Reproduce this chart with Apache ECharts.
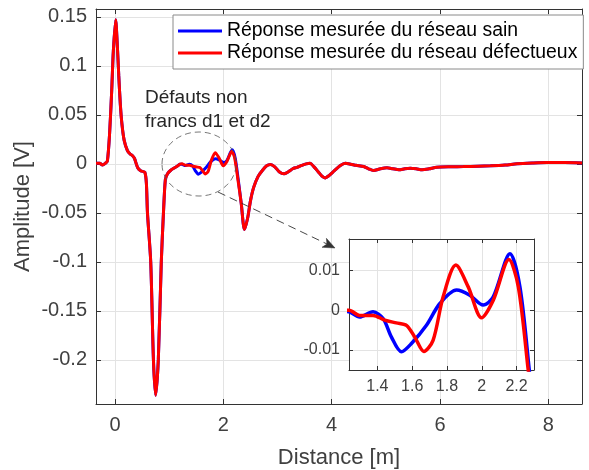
<!DOCTYPE html>
<html>
<head>
<meta charset="utf-8">
<script src="https://cdn.jsdelivr.net/npm/echarts@6/dist/echarts.min.js"></script>
<style>
  html, body { margin: 0; padding: 0; background: #fff; }
  #chart { width: 589px; height: 470px; }
</style>
</head>
<body>
<div id="chart"></div>
<script>
// start of the trace, same for both measurements
var distHead = [-0.35, -0.28, -0.23, -0.18, -0.14, -0.1, -0.06, -0.03, 0.013, 0.04, 0.07, 0.1, 0.13, 0.17, 0.23, 0.28, 0.32, 0.36, 0.42, 0.48, 0.55, 0.58, 0.6, 0.66, 0.71, 0.75, 0.8, 0.855, 0.895, 0.93, 0.97, 1.03, 1.1, 1.16, 1.2];
var ampHead = [0.0005, 0.0005, -0.0012, 0.0005, 0.003, 0.03, 0.075, 0.115, 0.147, 0.125, 0.09, 0.06, 0.04, 0.024, 0.0135, 0.01, 0.0085, 0.0055, -0.004, -0.0072, -0.0085, -0.02, -0.05, -0.1, -0.2, -0.236, -0.2, -0.1, -0.05, -0.016, -0.01, -0.0065, -0.004, -0.002, -0.0003];

// zone of the two soft faults (d1, d2)
var distSain = [1.237, 1.298, 1.375, 1.433, 1.481, 1.538, 1.596, 1.682, 1.759, 1.855, 1.931, 2.008, 2.066, 2.162, 2.219, 2.273];
var ampSain = [-0.0004, -0.0017, -0.0004, -0.0021, -0.0068, -0.0105, -0.0084, -0.0038, 0.0017, 0.0051, 0.0038, 0.0013, 0.0034, 0.0143, 0.0059, -0.0152];
var distDefect = [1.237, 1.298, 1.375, 1.442, 1.509, 1.567, 1.615, 1.667, 1.72, 1.778, 1.851, 1.922, 1.999, 2.066, 2.156, 2.21, 2.267];
var ampDefect = [0.0, -0.0013, -0.0013, -0.0025, -0.0032, -0.0038, -0.0068, -0.0104, -0.0076, 0.0034, 0.0114, 0.0059, -0.0019, 0.0025, 0.0128, 0.0059, -0.0152];

// rest of the trace
var distTail = [2.33, 2.39, 2.45, 2.5, 2.56, 2.64, 2.72, 2.8, 2.87, 2.95, 3.03, 3.12, 3.2, 3.28, 3.36, 3.45, 3.53, 3.6, 3.67, 3.75, 3.82, 3.88, 3.95, 4.05, 4.16, 4.25, 4.35, 4.45, 4.59, 4.68, 4.77, 4.9, 5.02, 5.13, 5.24, 5.35, 5.45, 5.56, 5.67, 5.8, 5.94, 6.2, 6.43, 6.7, 6.93, 7.2, 7.42, 7.7, 7.97, 8.3, 8.62];
var ampTail = [-0.04, -0.067, -0.055, -0.038, -0.024, -0.013, -0.0068, -0.002, -0.0007, -0.003, -0.008, -0.0102, -0.008, -0.005, -0.0035, -0.0015, 0.0, 0.0006, -0.0028, -0.008, -0.0125, -0.0143, -0.012, -0.007, -0.0017, 0.0006, -0.0003, -0.0015, -0.0027, -0.005, -0.0068, -0.005, -0.004, -0.005, -0.006, -0.005, -0.0045, -0.005, -0.006, -0.005, -0.0035, -0.003, -0.0028, -0.0024, -0.002, -0.0012, 0.0, 0.0008, 0.0013, 0.0013, 0.001];

var xTicks = [0, 2, 4, 6, 8];
var yTicks = [-0.2, -0.15, -0.1, -0.05, 0, 0.05, 0.1, 0.15];
var zoomXTicks = [1.4, 1.6, 1.8, 2, 2.2];
var zoomYTicks = [-0.01, 0, 0.01];

var nameSain = 'Réponse mesurée du réseau sain';
var nameDefect = 'Réponse mesurée du réseau défectueux';

function pairs(xs, ys) {
  var out = [];
  for (var i = 0; i < xs.length; i++) out.push([xs[i], ys[i]]);
  return out;
}
var dataSain = pairs(distHead.concat(distSain, distTail), ampHead.concat(ampSain, ampTail));
var dataDefect = pairs(distHead.concat(distDefect, distTail), ampHead.concat(ampDefect, ampTail));

var font = 'Liberation Sans';
var axisCol = '#333333';
var labCol = '#404040';
var gridCol = '#e3e3e3';

function fmt(v) { return String(+(+v).toFixed(3)); }

function axis(dim, opts) {
  var a = {
    type: 'value',
    gridIndex: opts.grid,
    min: opts.min,
    max: opts.max,
    position: opts.position,
    z: opts.z || 0,
    axisLine: { show: true, onZero: false, lineStyle: { color: axisCol, width: 1 } },
    axisTick: { show: true, inside: true, length: opts.tickLen, customValues: opts.ticks, lineStyle: { color: axisCol } },
    axisLabel: {
      show: !!opts.labels,
      customValues: opts.ticks,
      formatter: fmt,
      color: labCol,
      fontFamily: font,
      fontSize: opts.fontSize,
      margin: opts.margin
    },
    splitLine: { show: !!opts.split, lineStyle: { color: gridCol, width: 1 } }
  };
  if (opts.name) {
    a.name = opts.name;
    a.nameLocation = 'middle';
    a.nameGap = opts.nameGap;
    a.nameMoveOverlap = false;
    a.nameTextStyle = { color: labCol, fontFamily: font, fontSize: 22 };
  }
  return a;
}

var dom = document.getElementById('chart');
var myChart = echarts.init(dom, null, { renderer: 'canvas' });

var option = {
  animation: false,
  backgroundColor: '#fff',
  grid: [
    { left: 96, top: 9, right: 7, bottom: 66, outerBoundsMode: 'none', containLabel: false },
    { left: 349, top: 239, width: 185, height: 131, outerBoundsMode: 'none', containLabel: false,
      show: true, backgroundColor: '#fff', borderWidth: 0, z: 5 }
  ],
  xAxis: [
    axis('x', { grid: 0, min: -0.35, max: 8.62, position: 'bottom', ticks: xTicks, tickLen: 5, labels: true, fontSize: 20, margin: 11, split: true, name: 'Distance [m]', nameGap: 43 }),
    axis('x', { grid: 0, min: -0.35, max: 8.62, position: 'top', ticks: xTicks, tickLen: 5 }),
    axis('x', { grid: 1, min: 1.237, max: 2.3, position: 'bottom', ticks: zoomXTicks, tickLen: 4, labels: true, fontSize: 16, margin: 9, split: true, z: 6 }),
    axis('x', { grid: 1, min: 1.237, max: 2.3, position: 'top', ticks: zoomXTicks, tickLen: 4, z: 6 })
  ],
  yAxis: [
    axis('y', { grid: 0, min: -0.245, max: 0.158, position: 'left', ticks: yTicks, tickLen: 5, labels: true, fontSize: 20, margin: 9, split: true, name: 'Amplitude [V]', nameGap: 62 }),
    axis('y', { grid: 0, min: -0.245, max: 0.158, position: 'right', ticks: yTicks, tickLen: 5 }),
    axis('y', { grid: 1, min: -0.0151, max: 0.018, position: 'left', ticks: zoomYTicks, tickLen: 4, labels: true, fontSize: 16, margin: 9, split: true, z: 6 }),
    axis('y', { grid: 1, min: -0.0151, max: 0.018, position: 'right', ticks: zoomYTicks, tickLen: 4, z: 6 })
  ],
  legend: {
    show: true,
    selectedMode: false,
    orient: 'vertical',
    left: 173,
    top: 15,
    padding: [5, 6, 5, 5],
    itemGap: 0,
    itemWidth: 44,
    itemHeight: 3,
    itemTextGap: 5,
    icon: 'rect',
    backgroundColor: '#fff',
    borderColor: '#8a8a8a',
    borderWidth: 1,
    z: 10,
    textStyle: { color: '#000', fontFamily: font, fontSize: 19.4, lineHeight: 22 },
    data: [nameSain, nameDefect]
  },
  graphic: [
    {
      type: 'text', left: 145, top: 86, z: 10,
      style: { text: 'Défauts non\nfrancs d1 et d2', fill: '#262626', font: '19px "Liberation Sans"', lineHeight: 24 }
    },
    {
      type: 'ellipse', z: 10,
      shape: { cx: 199, cy: 164, rx: 37, ry: 32 },
      style: { fill: 'none', stroke: '#555', lineWidth: 0.8, lineDash: [6, 4] }
    },
    {
      type: 'line', z: 10,
      shape: { x1: 218, y1: 192, x2: 327, y2: 244 },
      style: { stroke: '#333', lineWidth: 0.9, lineDash: [8, 5] }
    },
    {
      type: 'polygon', z: 10,
      shape: { points: [[335, 248], [322, 247.3], [326.9, 244.1], [326.4, 238.3]] },
      style: { fill: '#333', stroke: '#333', lineWidth: 0.5 }
    }
  ],
  series: [
    { name: nameSain, type: 'line', xAxisIndex: 0, yAxisIndex: 0, data: dataSain, showSymbol: false, symbol: 'none', smooth: 0.25, z: 2,
      lineStyle: { color: '#0000ff', width: 3 }, itemStyle: { color: '#0000ff' } },
    { name: nameDefect, type: 'line', xAxisIndex: 0, yAxisIndex: 0, data: dataDefect, showSymbol: false, symbol: 'none', smooth: 0.25, z: 3,
      lineStyle: { color: '#ff0000', width: 3 }, itemStyle: { color: '#ff0000' } },
    { name: nameSain, type: 'line', xAxisIndex: 2, yAxisIndex: 2, data: dataSain, showSymbol: false, symbol: 'none', smooth: 0.3, z: 7, clip: true,
      lineStyle: { color: '#0000ff', width: 3.5 }, itemStyle: { color: '#0000ff' } },
    { name: nameDefect, type: 'line', xAxisIndex: 2, yAxisIndex: 2, data: dataDefect, showSymbol: false, symbol: 'none', smooth: 0.3, z: 8, clip: true,
      lineStyle: { color: '#ff0000', width: 3.5 }, itemStyle: { color: '#ff0000' } }
  ]
};

if (option && typeof option === 'object') {
  myChart.setOption(option, true);
}
</script>
</body>
</html>
